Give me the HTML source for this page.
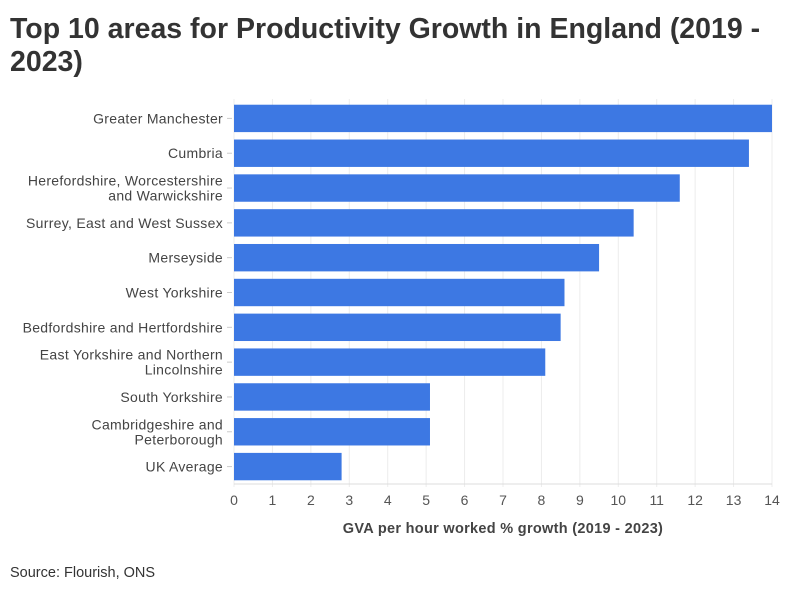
<!DOCTYPE html>
<html><head><meta charset="utf-8"><style>
body{margin:0;background:#fff;font-family:"Liberation Sans",sans-serif;}
#wrap{position:relative;width:794px;height:592px;overflow:hidden;}
h1{position:absolute;left:10px;top:13px;margin:0;font-size:28.5px;line-height:33px;font-weight:bold;color:#333;width:790px;white-space:nowrap;}
#src{position:absolute;left:10px;top:565px;font-size:14.5px;color:#333;}
</style></head><body>
<div id="wrap">
<h1>Top 10 areas for Productivity Growth in England (2019 -<br>2023)</h1>
<svg id="svg" width="794" height="592" style="position:absolute;left:0;top:0"></svg>
<div id="src">Source: Flourish, ONS</div>
</div>
<script>
const categories=[["Greater Manchester"],["Cumbria"],["Herefordshire, Worcestershire","and Warwickshire"],["Surrey, East and West Sussex"],["Merseyside"],["West Yorkshire"],["Bedfordshire and Hertfordshire"],["East Yorkshire and Northern","Lincolnshire"],["South Yorkshire"],["Cambridgeshire and","Peterborough"],["UK Average"]];
const values=[14.0,13.4,11.6,10.4,9.5,8.6,8.5,8.1,5.1,5.1,2.8];
const ticks=[0,1,2,3,4,5,6,7,8,9,10,11,12,13,14];
(function(){
const NS="http://www.w3.org/2000/svg";
const svg=document.getElementById('svg');
const x0=234,x1=772,pTop=101,pBot=484,xmax=14;
const xs=v=>x0+(x1-x0)*v/xmax;
const step=(pBot-pTop)/categories.length;
const yc=i=>pTop+step*(i+0.5);
function mk(t,a){const e=document.createElementNS(NS,t);for(const k in a)e.setAttribute(k,a[k]);svg.appendChild(e);return e;}
ticks.forEach(t=>{
 const g=mk('line',{x1:xs(t),x2:xs(t),y1:pTop-2,y2:pBot+3,stroke:'#ececec','stroke-width':1});
 
 
 const l=mk('text',{x:xs(t),y:505,'text-anchor':'middle','font-size':14,fill:'#555','font-family':'Liberation Sans'});
 l.textContent=t;
 
 
});
const ax=mk('line',{x1:x0,x2:x1,y1:pBot,y2:pBot,stroke:'#ddd','stroke-width':1});


categories.forEach((c,i)=>{
 const y=yc(i);
 const b=mk('rect',{x:x0,y:y-13.7,width:xs(values[i])-x0,height:27.4,fill:'#3d78e3'});
 
 
 const tk=mk('line',{x1:227,x2:232,y1:y,y2:y,stroke:'#ccc'});
 
 
 c.forEach((s,j)=>{
  const t=mk('text',{x:223,y:y+5+(j-(c.length-1)/2)*15,'text-anchor':'end','font-size':14,'letter-spacing':0.3,fill:'#444','font-family':'Liberation Sans'});
  t.textContent=s;
  
  
 });
});
const at=mk('text',{x:503,y:533,'text-anchor':'middle','font-size':14.5,'letter-spacing':0.3,'font-weight':'bold',fill:'#444','font-family':'Liberation Sans'});
at.textContent='GVA per hour worked % growth (2019 - 2023)';


})();
</script>
</body></html>
